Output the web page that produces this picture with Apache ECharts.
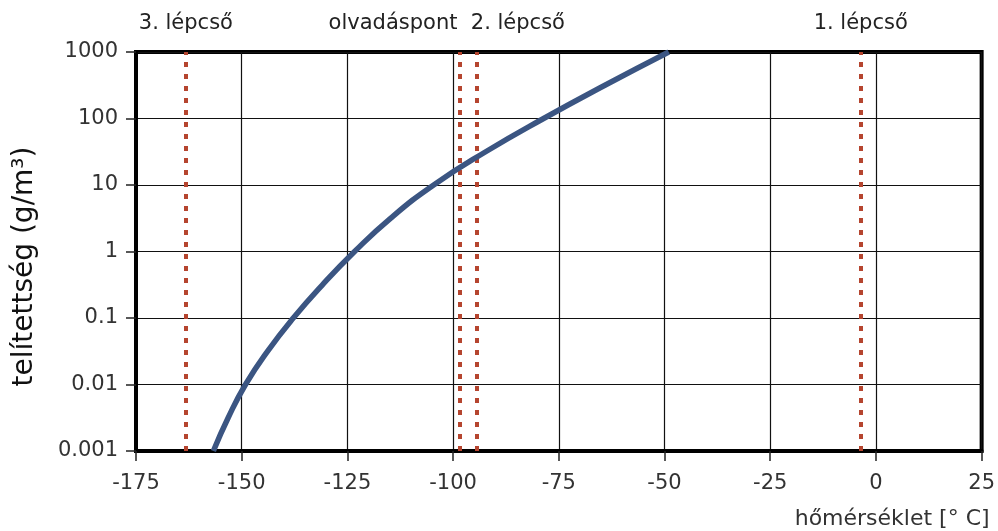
<!DOCTYPE html>
<html>
<head>
<meta charset="utf-8">
<script src="https://cdn.jsdelivr.net/npm/echarts@6/dist/echarts.min.js"></script>
<style>html,body{margin:0;padding:0;background:#fff;}#chart{width:998px;height:531px;}</style>
</head>
<body>
<div id="chart"></div>
<script>
// Temperature (°C) along the saturation curve
const temps = [-156.7, -153.2, -149.1, -143.9, -137.8, -130.9, -123.3, -114.8, -104.6, -92.3, -78.6, -64.1, -49.0];
// Saturation (g/m³)
const saturation = [0.001, 0.00316, 0.01, 0.0316, 0.1, 0.316, 1, 3.16, 10, 31.6, 100, 316, 1000];
// Vertical marker lines
const markerNames = ['3. lépcső', 'olvadáspont', '2. lépcső', '1. lépcső'];
const markerTemps = [-163.2, -98.5, -94.4, -3.6];
// Tick labels
const yTickLabels = ['0.001', '0.01', '0.1', '1', '10', '100', '1000'];
const xTicks = [-175, -150, -125, -100, -75, -50, -25, 0, 25];

const FONT = 'DejaVu Sans';
const chart = echarts.init(document.getElementById('chart'), null, {renderer: 'canvas'});

const markerAlign = ['center', 'right', 'left', 'center'];
const markerOffset = [[0, 0], [-2, 0], [-6, 0], [0, 0]];

const markData = markerTemps.map((t, i) => ({
  xAxis: t,
  name: markerNames[i],
  label: {align: markerAlign[i], offset: markerOffset[i]}
}));

const option = {
  animation: false,
  backgroundColor: '#fff',
  grid: {left: 136, right: 16, top: 52, bottom: 80, show: true, borderWidth: 4, borderColor: '#000', backgroundColor: 'transparent'},
  xAxis: {
    type: 'value', min: xTicks[0], max: xTicks[xTicks.length - 1], interval: 25,
    name: 'hőmérséklet [° C]', nameLocation: 'end', nameGap: 8,
    nameTextStyle: {fontFamily: FONT, fontSize: 22, color: '#333', align: 'right', verticalAlign: 'top', padding: [57, 0, 0, 0]},
    axisLine: {show: true, onZero: false, lineStyle: {color: '#000', width: 4}},
    axisTick: {show: true, length: 10, lineStyle: {color: '#222', width: 1.5}},
    axisLabel: {fontFamily: FONT, fontSize: 21, color: '#333', margin: 22, showMinLabel: true, showMaxLabel: true},
    splitLine: {show: true, lineStyle: {color: '#111', width: 1.2}}
  },
  yAxis: {
    type: 'log', logBase: 10, min: 0.001, max: 1000,
    name: 'telítettség (g/m³)', nameLocation: 'middle', nameGap: 97,
    nameTextStyle: {fontFamily: FONT, fontSize: 28, color: '#111', padding: [0, 30, 0, 0]},
    axisLine: {show: true, onZero: false, lineStyle: {color: '#000', width: 4}},
    axisTick: {show: true, length: 10, lineStyle: {color: '#222', width: 1.5}},
    axisLabel: {
      fontFamily: FONT, fontSize: 21, color: '#333', margin: 18,
      formatter: function (v) {
        const idx = Math.round(Math.log10(v)) + 3;
        return yTickLabels[idx] !== undefined ? yTickLabels[idx] : '';
      }
    },
    splitLine: {show: true, lineStyle: {color: '#111', width: 1.2}}
  },
  series: [
    {
      type: 'line',
      data: temps.map((t, i) => [t, saturation[i]]),
      smooth: 0.5,
      showSymbol: false,
      lineStyle: {color: '#3b5582', width: 5.5},
      z: 5,
      markLine: {
        silent: true,
        symbol: ['none', 'none'],
        animation: false,
        lineStyle: {color: '#b5452f', width: 4, type: [5, 7]},
        label: {show: true, position: 'end', distance: 18, formatter: '{b}', fontFamily: FONT, fontSize: 21, color: '#222'},
        data: markData
      }
    }
  ]
};
chart.setOption(option);
</script>
</body>
</html>
